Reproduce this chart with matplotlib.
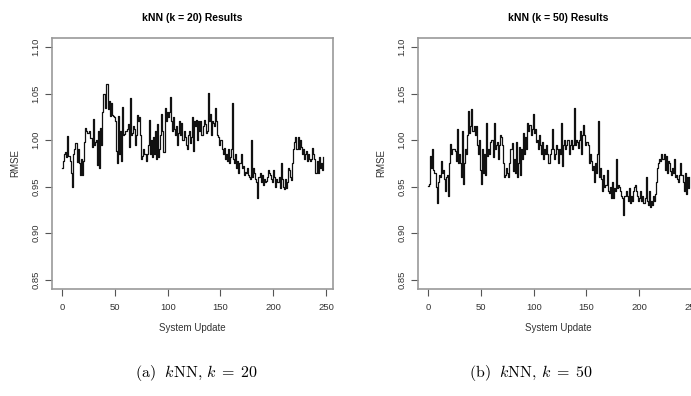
import numpy as np
import matplotlib
matplotlib.use("Agg")
import matplotlib.pyplot as plt

plt.rcParams['font.family'] = ['Liberation Sans', 'DejaVu Sans']
plt.rcParams['mathtext.fontset'] = 'cm'

# RMSE per system update, kNN k=20
rmse_k20 = [
    0.970, 0.978, 0.985, 0.987, 0.982, 1.004, 0.983, 0.978, 0.965, 0.950,
    0.985, 0.990, 0.997, 0.997, 0.976, 0.990, 0.975, 0.962, 0.980, 0.962,
    0.978, 0.998, 1.013, 1.010, 1.008, 1.010, 1.002, 1.002, 0.993, 1.023,
    0.995, 0.998, 1.000, 0.973, 1.010, 0.970, 1.013, 0.995, 1.030, 1.050,
    1.050, 1.035, 1.060, 1.033, 1.042, 1.026, 1.040, 1.027, 1.026, 1.025,
    1.020, 0.988, 0.975, 1.026, 0.985, 1.010, 0.977, 1.036, 1.005, 1.007,
    1.010, 1.012, 1.017, 0.993, 1.045, 1.005, 1.008, 1.015, 1.012, 0.995,
    1.005, 1.027, 1.020, 1.025, 1.005, 0.980, 0.983, 0.990, 0.985, 0.977,
    0.985, 0.995, 1.022, 0.985, 1.000, 0.982, 1.003, 0.985, 1.010, 0.980,
    1.017, 0.982, 0.990, 1.005, 1.028, 1.010, 0.987, 1.034, 1.020, 1.030,
    1.025, 1.030, 1.046, 1.020, 1.010, 1.025, 1.012, 1.005, 1.015, 0.995,
    1.008, 1.020, 1.005, 1.018, 1.000, 1.010, 1.003, 0.995, 0.990, 1.005,
    1.010, 0.997, 1.003, 1.025, 0.988, 1.020, 1.015, 1.022, 1.000, 1.020,
    1.010, 1.020, 1.005, 1.015, 1.022, 1.017, 1.008, 1.010, 1.051, 1.020,
    1.028, 1.005, 1.020, 1.018, 1.015, 1.035, 1.020, 1.005, 1.003, 0.995,
    1.000, 0.990, 0.985, 0.992, 0.980, 0.985, 0.978, 0.990, 0.975, 0.982,
    0.990, 1.040, 0.980, 0.975, 0.985, 0.970, 0.978, 0.965, 0.975, 0.985,
    0.970, 0.972, 0.962, 0.966, 0.965, 0.970, 0.962, 0.960, 0.958, 1.000,
    0.960, 0.970, 0.965, 0.958, 0.955, 0.938, 0.960, 0.965, 0.955, 0.962,
    0.952, 0.958, 0.955, 0.956, 0.960, 0.968, 0.965, 0.962, 0.958, 0.955,
    0.968, 0.960, 0.950, 0.958, 0.955, 0.960, 0.948, 0.975, 0.958, 0.950,
    0.947, 0.958, 0.948, 0.955, 0.970, 0.968, 0.960, 0.957, 0.975, 0.990,
    0.998, 1.003, 0.990, 1.003, 0.990, 1.000, 0.993, 0.985, 0.990, 0.980,
    0.985, 0.988, 0.978, 0.985, 0.980, 0.978, 0.980, 0.992, 0.985, 0.980,
    0.965, 0.977, 0.965, 0.982, 0.970, 0.975, 0.968, 0.982,
]

# RMSE per system update, kNN k=50
rmse_k50 = [
    0.951, 0.953, 0.983, 0.970, 0.990, 0.968, 0.965, 0.950, 0.932, 0.955,
    0.962, 0.960, 0.978, 0.965, 0.968, 0.958, 0.945, 0.960, 0.962, 0.940,
    0.975, 0.996, 0.985, 0.990, 0.990, 0.988, 0.978, 1.012, 0.975, 0.985,
    0.975, 0.960, 1.010, 0.953, 0.975, 0.990, 0.985, 1.005, 1.031, 1.008,
    1.015, 1.033, 1.010, 1.015, 1.005, 1.015, 0.995, 0.985, 1.000, 0.968,
    0.953, 0.990, 0.965, 0.985, 0.962, 1.018, 0.983, 0.990, 0.985, 0.998,
    1.000, 0.982, 1.018, 0.990, 0.995, 0.998, 0.980, 0.995, 1.005, 1.003,
    0.995, 0.975, 0.960, 0.963, 0.970, 0.965, 0.960, 0.975, 0.990, 0.997,
    0.967, 0.980, 0.965, 0.998, 0.960, 0.975, 0.993, 0.962, 0.990, 0.980,
    1.008, 0.985, 1.003, 0.990, 1.018, 1.010, 1.016, 1.005, 1.012, 1.028,
    1.008, 1.012, 0.998, 1.000, 0.990, 1.005, 0.995, 0.985, 0.998, 0.980,
    0.990, 0.985, 0.995, 0.985, 0.975, 0.985, 0.990, 1.012, 0.990, 0.980,
    0.985, 0.995, 0.990, 0.975, 0.990, 0.985, 1.018, 0.972, 0.995, 1.000,
    0.990, 0.995, 1.000, 0.985, 0.995, 1.000, 0.990, 0.995, 1.034, 0.995,
    1.000, 0.998, 0.992, 1.000, 1.010, 0.985, 1.005, 1.016, 1.005, 0.995,
    0.998, 0.995, 0.975, 0.985, 0.978, 0.968, 0.972, 0.955, 0.975, 0.965,
    0.985, 1.020, 0.960, 0.970, 0.958, 0.945, 0.962, 0.950, 0.952, 0.968,
    0.945, 0.943, 0.950, 0.938, 0.955, 0.938, 0.948, 0.945, 0.980, 0.948,
    0.952, 0.950, 0.945, 0.940, 0.938, 0.920, 0.940, 0.945, 0.940, 0.935,
    0.948, 0.932, 0.940, 0.935, 0.945, 0.950, 0.952, 0.945, 0.940, 0.935,
    0.938, 0.945, 0.935, 0.940, 0.932, 0.938, 0.960, 0.935, 0.930, 0.945,
    0.928, 0.935, 0.930, 0.940, 0.935, 0.942, 0.955, 0.970, 0.975, 0.980,
    0.978, 0.985, 0.980, 0.985, 0.968, 0.983, 0.965, 0.978, 0.975, 0.967,
    0.963, 0.970, 0.965, 0.980, 0.960, 0.962, 0.958, 0.955, 0.962, 0.975,
    0.962, 0.955, 0.945, 0.965, 0.942, 0.960, 0.948, 0.960,
]

titles = ["kNN (k = 20) Results", "kNN (k = 50) Results"]
captions = [r"$\mathrm{(a)}\ \ k\mathrm{NN},\, k \;=\; 20$",
            r"$\mathrm{(b)}\ \ k\mathrm{NN},\, k \;=\; 50$"]
xticks = [0, 50, 100, 150, 200, 250]
yticks = [0.85, 0.90, 0.95, 1.00, 1.05, 1.10]

W, H = 691, 396
fig = plt.figure(figsize=(W / 100, H / 100), dpi=100)

# axes boxes in pixels (left, top, right, bottom); right panel is cropped by the page
boxes = [(51.7, 37.7, 333.3, 289.0), (417.7, 37.7, 699.3, 289.0)]
cap_x = [197, 531]

for i, series in enumerate([rmse_k20, rmse_k50]):
    l, t, r, b = boxes[i]
    ax = fig.add_axes([l / W, 1 - b / H, (r - l) / W, (b - t) / H])
    x = np.arange(len(series))
    ax.plot(x, series, drawstyle='steps-post', color='#111111', lw=0.9)
    ax.set_xlim(-9.9, 256.9)
    ax.set_ylim(0.84, 1.11)
    ax.set_xticks(xticks)
    ax.set_yticks(yticks)
    ax.set_yticklabels(["%.2f" % v for v in yticks], rotation=90, va='center')
    ax.tick_params(direction='out', length=5, width=0.8, color='#555555',
                   labelsize=6.8, labelcolor='#333333')
    ax.tick_params(axis='x', pad=5)
    ax.tick_params(axis='y', pad=3)
    for s in ax.spines.values():
        s.set_color('#999999')
        s.set_linewidth(1.2)
    ax.set_title(titles[i], fontsize=7.5, fontweight='bold', pad=12)
    ax.set_xlabel("System Update", fontsize=7, color='#333333', labelpad=8)
    ax.set_ylabel("RMSE", fontsize=7, color='#333333', labelpad=8)
    fig.text(cap_x[i] / W, 1 - 373 / H, captions[i], fontsize=11.5,
             ha='center', va='center')

fig.savefig("out.png", dpi=100)
